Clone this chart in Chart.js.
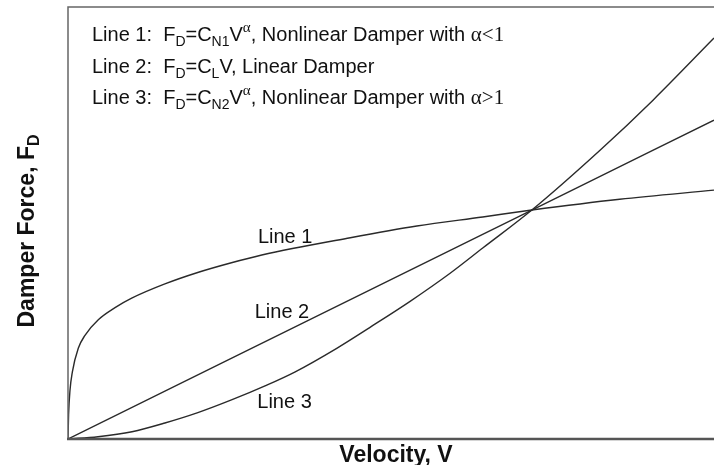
<!DOCTYPE html>
<html>
<head>
<meta charset="utf-8">
<script src="https://cdn.jsdelivr.net/npm/chart.js@4.4.1/dist/chart.umd.min.js"></script>
<style>
  html, body { margin: 0; padding: 0; background: #fff; }
  canvas { display: block; }
</style>
</head>
<body>
<canvas id="damperChart" width="714" height="465"></canvas>
<script>
// velocity / force (both axes 0..100, no ticks shown)
const line1V = [0, 0.09, 0.31, 0.67, 1.59, 2.63, 4.69, 7.28, 9.86, 15.0, 20.2, 25.3, 30.0, 43.7, 54.0, 64.2, 71.8, 85.4, 100];
const line1F = [0, 5.6, 11.3, 15.5, 21.0, 24.0, 27.6, 30.4, 32.6, 35.9, 38.6, 40.8, 42.6, 46.6, 49.3, 51.4, 53.0, 55.5, 57.6];

const line2V = [0, 71.8, 100];
const line2F = [0, 53.0, 73.8];

const line3V = [0, 4.64, 9.91, 15.0, 20.1, 25.4, 30.5, 35.1, 41.6, 46.7, 52.9, 59.1, 64.2, 71.8, 82.4, 90.6, 100];
const line3F = [0, 0.53, 1.69, 3.7, 6.1, 9.1, 12.3, 15.5, 21.0, 25.8, 31.8, 38.3, 44.2, 53.0, 66.9, 78.5, 92.8];

const lineNames = ['Line 1', 'Line 2', 'Line 3'];
// where each "Line n" label sits, in data units (velocity, force)
const labelAt = [[29.4, 45.4], [28.9, 28.0], [29.3, 7.2]];

const sans = '"Liberation Sans", Arial, sans-serif';
const serif = '"Liberation Serif", "Times New Roman", serif';
const ink = '#111';

const toPoints = (vs, fs) => vs.map((v, i) => ({ x: v, y: fs[i] }));

// one legend row = list of [text, kind] where kind is n(ormal), sub, g(reek serif), gsup
const legendRows = [
  [['Line 1:  F', 'n'], ['D', 'sub'], ['=C', 'n'], ['N1', 'sub'], ['V', 'n'], ['\u03b1', 'gsup'], [', Nonlinear Damper with ', 'n'], ['\u03b1<1', 'g']],
  [['Line 2:  F', 'n'], ['D', 'sub'], ['=C', 'n'], ['L', 'sub'], ['V, Linear Damper', 'n']],
  [['Line 3:  F', 'n'], ['D', 'sub'], ['=C', 'n'], ['N2', 'sub'], ['V', 'n'], ['\u03b1', 'gsup'], [', Nonlinear Damper with ', 'n'], ['\u03b1>1', 'g']],
];

function drawRich(ctx, parts, x, y) {
  parts.forEach(([text, kind]) => {
    let dy = 0;
    if (kind === 'n') ctx.font = `20px ${sans}`;
    if (kind === 'sub') { ctx.font = `14px ${sans}`; dy = 5; }
    if (kind === 'g') ctx.font = `21px ${serif}`;
    if (kind === 'gsup') { ctx.font = `15px ${serif}`; dy = -9; }
    ctx.fillText(text, x, y + dy);
    x += ctx.measureText(text).width;
  });
}

const decorations = {
  id: 'decorations',
  afterDatasetsDraw(chart) {
    const { ctx, chartArea: a, scales } = chart;
    ctx.save();

    // frame: left, top, bottom
    ctx.strokeStyle = '#666';
    ctx.lineWidth = 1.5;
    ctx.beginPath();
    ctx.moveTo(a.left, a.bottom);
    ctx.lineTo(a.left, a.top);
    ctx.lineTo(a.right, a.top);
    ctx.stroke();
    ctx.lineWidth = 2.5;
    ctx.strokeStyle = '#555';
    ctx.beginPath();
    ctx.moveTo(a.left - 1, a.bottom);
    ctx.lineTo(a.right, a.bottom);
    ctx.stroke();

    ctx.fillStyle = ink;
    ctx.textBaseline = 'alphabetic';
    ctx.textAlign = 'left';

    legendRows.forEach((row, i) => drawRich(ctx, row, 92, 41 + i * 31.5));

    ctx.font = `20px ${sans}`;
    lineNames.forEach((name, i) => {
      const px = scales.x.getPixelForValue(labelAt[i][0]);
      const py = scales.y.getPixelForValue(labelAt[i][1]);
      ctx.fillText(name, px, py);
    });

    // x title
    ctx.font = `bold 23px ${sans}`;
    ctx.textAlign = 'center';
    ctx.fillText('Velocity, V', 396, 462);

    // y title, rotated, with subscript
    ctx.save();
    ctx.translate(34, 231);
    ctx.rotate(-Math.PI / 2);
    ctx.font = `bold 23px ${sans}`;
    const main = 'Damper Force, F';
    const wMain = ctx.measureText(main).width;
    ctx.font = `bold 16px ${sans}`;
    const wSub = ctx.measureText('D').width;
    const start = -(wMain + wSub) / 2;
    ctx.textAlign = 'left';
    ctx.font = `bold 23px ${sans}`;
    ctx.fillText(main, start, 0);
    ctx.font = `bold 16px ${sans}`;
    ctx.fillText('D', start + wMain, 5);
    ctx.restore();

    ctx.restore();
  },
};

const lineStyle = {
  borderColor: '#2a2a2a',
  borderWidth: 1.4,
  pointRadius: 0,
  fill: false,
  cubicInterpolationMode: 'monotone',
};

new Chart(document.getElementById('damperChart'), {
  type: 'line',
  data: {
    datasets: [
      { label: lineNames[0], data: toPoints(line1V, line1F), ...lineStyle },
      { label: lineNames[1], data: toPoints(line2V, line2F), ...lineStyle },
      { label: lineNames[2], data: toPoints(line3V, line3F), ...lineStyle },
    ],
  },
  options: {
    responsive: false,
    animation: false,
    devicePixelRatio: 1,
    layout: { padding: { left: 68, top: 7, right: 0, bottom: 26 } },
    plugins: { legend: { display: false }, tooltip: { enabled: false } },
    scales: {
      x: { type: 'linear', min: 0, max: 100, display: false },
      y: { type: 'linear', min: 0, max: 100, display: false },
    },
  },
  plugins: [decorations],
});
</script>
</body>
</html>
